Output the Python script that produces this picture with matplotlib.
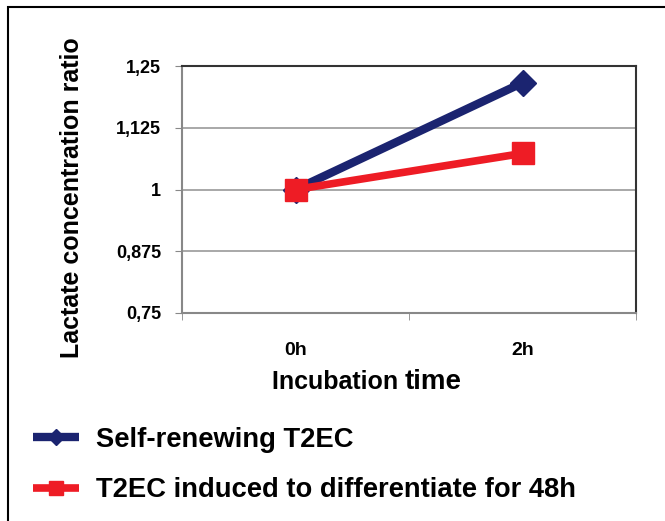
import matplotlib
matplotlib.use("Agg")
import matplotlib.pyplot as plt
from matplotlib.patches import Rectangle

categories = ["0h", "2h"]
self_renewing = [1.0, 1.216]
differentiating = [1.0, 1.073]
series_labels = ["Self-renewing T2EC", "T2EC induced to differentiate for 48h"]
yticks = [0.75, 0.875, 1.0, 1.125, 1.25]
ytick_labels = ["0,75", "0,875", "1", "1,125", "1,25"]

FONT = ["Liberation Sans", "DejaVu Sans"]
plt.rcParams['font.family'] = FONT

fig = plt.figure(figsize=(6.65, 5.21), dpi=100)
ax = fig.add_axes([182/665, 1-313/521, (636-182)/665, (313-66)/521])

xs = [0.5, 1.5]
ax.plot(xs, self_renewing, color="#1b2470", lw=6, marker="D", ms=13,
        solid_capstyle="butt", label=series_labels[0], zorder=3)
ax.plot(xs, differentiating, color="#ee1c25", lw=5.5, marker="s", ms=16,
        solid_capstyle="butt", label=series_labels[1], zorder=4)

ax.set_xlim(0, 2)
ax.set_ylim(0.75, 1.25)
ax.set_yticks(yticks)
ax.set_yticklabels(ytick_labels, fontsize=13, fontweight="bold")
ax.set_xticks(xs)
ax.set_xticklabels(categories, fontsize=14, fontweight="bold")
ax.set_xticks([0, 1, 2], minor=True)
ax.tick_params(axis="x", which="major", length=0, pad=21)
ax.tick_params(axis="x", which="minor", length=5, color="#888888", direction="out")
ax.tick_params(axis="y", length=5, color="#888888", pad=10)
ax.yaxis.grid(True, color="#999999", lw=1.2)
ax.set_axisbelow(True)
for s in ["left", "bottom"]:
    ax.spines[s].set_color("#888888")
    ax.spines[s].set_linewidth(1.5)
for s in ["top", "right"]:
    ax.spines[s].set_color("#333333")
    ax.spines[s].set_linewidth(1.5)

fig.text(72/665, 1-198/521, "Lactate concentration ratio", rotation=90,
         ha="center", va="center", fontsize=18, fontweight="bold")
fig.text(405/665, 1-382/521, "Incubation ", ha="right", va="center",
         fontsize=18, fontweight="bold")
fig.text(405/665, 1-382/521, "time", ha="left", va="center",
         fontsize=20, fontweight="bold")

fig.add_artist(Rectangle((8/665, -0.1), 1.1, 1 - 7/521 + 0.1, transform=fig.transFigure,
                         fill=False, edgecolor="black", lw=1.5))

handles, labels = ax.get_legend_handles_labels()
leg = fig.legend(handles, labels, loc="upper left", bbox_to_anchor=(8/665, 1-402/521),
                 frameon=False, handlelength=1.7, handletextpad=0.6, labelspacing=0.9,
                 markerscale=0.6, prop={"size": 19.7, "weight": "bold"})

fig.savefig("out.png", dpi=100)
